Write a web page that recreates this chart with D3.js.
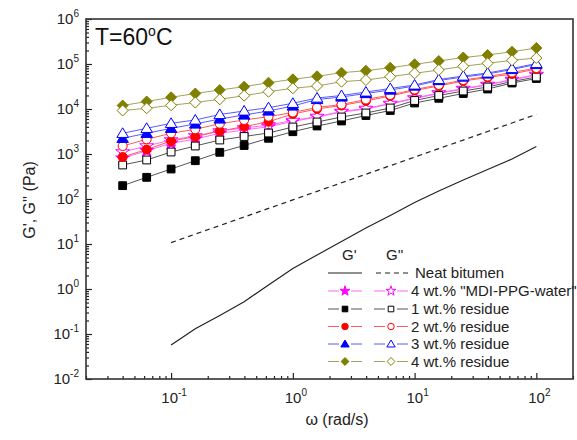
<!DOCTYPE html>
<html>
<head>
<meta charset="utf-8">
<script src="https://cdn.jsdelivr.net/npm/d3@7"></script>
<style>
  body { margin: 0; background: #fff; }
  svg { font-family: "Liberation Sans", Arial, sans-serif; }
</style>
</head>
<body>
<svg id="chart" width="577" height="440"></svg>
<script>
// frequencies (rad/s)
var omega = [0.04, 0.063, 0.1, 0.158, 0.251, 0.398, 0.631, 1, 1.58, 2.51, 3.98, 6.31, 10, 15.8, 25.1, 39.8, 63.1, 100];
var omegaNeat = [0.1, 0.158, 0.251, 0.398, 0.631, 1, 1.58, 2.51, 3.98, 6.31, 10, 15.8, 25.1, 39.8, 63.1, 100];

// neat bitumen
var neatG1 = [0.057, 0.131, 0.258, 0.522, 1.23, 2.85, 5.7, 11.4, 22.7, 43, 83.6, 151, 264, 453, 774, 1468];
var neatG2 = [10.7, 16.6, 25.7, 39.8, 61.7, 95.5, 148, 229, 355, 550, 851, 1320, 2040, 3160, 4900, 7580];

// 4 wt.% MDI-PPG-water
var mdiG1 = [802, 1183, 1730, 2154, 2884, 3415, 4045, 5275, 6640, 8570, 10000, 12900, 17100, 22100, 27800, 34150, 44060, 56990];
var mdiG2 = [1108, 1506, 2047, 2512, 3245, 3784, 4406, 5548, 6813, 8799, 10260, 13250, 17550, 22680, 28560, 35010, 45250, 58430];

// residue
var res1G1 = [198, 303, 464, 710, 1090, 1545, 2233, 3130, 4190, 5410, 7170, 9260, 13600, 17300, 22100, 27800, 37800, 47600];
var res1G2 = [570, 736, 1108, 1506, 2047, 2448, 2929, 3981, 5140, 6640, 8150, 10520, 15450, 19950, 25120, 30830, 40840, 51400];
var res2G1 = [857, 1259, 1944, 2423, 3245, 4045, 5220, 7742, 10000, 11960, 15060, 19440, 25770, 32440, 41900, 50120, 59950, 77430];
var res2G2 = [1506, 2122, 2884, 3540, 4713, 5700, 6745, 8360, 10800, 12590, 16260, 20470, 27100, 34150, 44060, 52730, 64720, 81470];
var res3G1 = [2233, 2884, 3724, 4642, 5995, 7360, 9030, 11660, 16260, 18490, 22100, 26430, 32440, 42970, 51400, 59950, 75510, 97500];
var res3G2 = [2884, 3724, 4808, 5700, 7550, 9030, 10690, 13390, 17550, 19950, 23870, 28560, 34150, 45250, 54080, 63100, 79430, 102600];
var res4G1 = [11960, 14680, 18200, 22100, 26430, 31330, 38400, 45710, 53330, 64120, 70960, 82760, 98430, 116600, 139400, 158500, 187700, 226800];
var res4G2 = [9260, 10370, 12080, 13940, 16430, 19760, 24230, 28840, 32440, 40430, 44060, 52240, 62120, 73590, 88920, 103700, 120800, 135900];

var labels = ["Neat bitumen", "4 wt.% \"MDI-PPG-water\"", "1 wt.% residue", "2 wt.% residue", "3 wt.% residue", "4 wt.% residue"];

var xDecades = [0.1, 1, 10, 100];
var yDecades = [1e-2, 1e-1, 1, 10, 100, 1e3, 1e4, 1e5, 1e6];

var svg = d3.select("#chart");

var plotLeft = 86, plotRight = 573, plotTop = 19, plotBottom = 379;

var x = d3.scaleLog().domain([0.02, 200]).range([plotLeft, plotRight]);
var y = d3.scaleLog().domain([0.01, 1e6]).range([plotBottom, plotTop]);

// marker shapes
function shape(name, s) {
  if (name == "square") return "M" + (-s) + "," + (-s) + "H" + s + "V" + s + "H" + (-s) + "Z";
  if (name == "diamond") return "M0," + (-s) + "L" + s + ",0L0," + s + "L" + (-s) + ",0Z";
  if (name == "triangle") return "M0," + (-s) + "L" + (s * 1.05) + "," + (s * 0.75) + "L" + (-s * 1.05) + "," + (s * 0.75) + "Z";
  if (name == "circle") return d3.symbol(d3.symbolCircle, Math.PI * s * s)();
  if (name == "star") return d3.symbol(d3.symbolStar, s * s * 2.2)();
}

var series = [
  { g1: mdiG1, g2: mdiG2, color: "#ff00ff", line: "#ff66ff", shape: "star", size: 5.2 },
  { g1: res1G1, g2: res1G2, color: "#000000", line: "#555555", shape: "square", size: 3.9 },
  { g1: res2G1, g2: res2G2, color: "#ff0000", line: "#ff5a5a", shape: "circle", size: 4.5 },
  { g1: res3G1, g2: res3G2, color: "#0000ff", line: "#5a5aff", shape: "triangle", size: 5.5 },
  { g1: res4G1, g2: res4G2, color: "#808000", line: "#a3a35c", shape: "diamond", size: 5.5 }
];

var line = d3.line()
    .x(function(d) { return x(d[0]); })
    .y(function(d) { return y(d[1]); });

// neat bitumen curves
svg.append("path")
    .attr("d", line(d3.zip(omegaNeat, neatG1)))
    .attr("fill", "none")
    .attr("stroke", "#222")
    .attr("stroke-width", 1.2);

svg.append("path")
    .attr("d", line(d3.zip(omegaNeat, neatG2)))
    .attr("fill", "none")
    .attr("stroke", "#222")
    .attr("stroke-width", 1.2)
    .attr("stroke-dasharray", "5,4");

series.forEach(function(s) {
  [s.g1, s.g2].forEach(function(vals, k) {
    var pts = d3.zip(omega, vals);
    svg.append("path")
        .attr("d", line(pts))
        .attr("fill", "none")
        .attr("stroke", s.line)
        .attr("stroke-width", 1);

    svg.append("g").selectAll("path")
        .data(pts)
      .enter().append("path")
        .attr("transform", function(d) { return "translate(" + x(d[0]) + "," + y(d[1]) + ")"; })
        .attr("d", shape(s.shape, s.size))
        .attr("fill", k == 0 ? s.color : "#fff")
        .attr("stroke", s.color)
        .attr("stroke-width", 1);
  });
});

// axes, ticks inward
var xMinor = x.ticks().filter(function(d) { return xDecades.indexOf(d) < 0; });
var yMinor = y.ticks().filter(function(d) { return yDecades.indexOf(d) < 0; });

svg.append("g")
    .attr("transform", "translate(0," + plotBottom + ")")
    .call(d3.axisBottom(x).tickValues(xMinor).tickSize(-3).tickFormat(""));
svg.append("g")
    .attr("transform", "translate(0," + plotBottom + ")")
    .call(d3.axisBottom(x).tickValues(xDecades).tickSize(-6).tickFormat(""));
svg.append("g")
    .attr("transform", "translate(" + plotLeft + ",0)")
    .call(d3.axisLeft(y).tickValues(yMinor).tickSize(-3).tickFormat(""));
svg.append("g")
    .attr("transform", "translate(" + plotLeft + ",0)")
    .call(d3.axisLeft(y).tickValues(yDecades).tickSize(-6).tickFormat(""));

svg.selectAll(".domain").remove();
svg.selectAll(".tick line").attr("stroke", "#222").attr("stroke-width", 1.2);

svg.append("rect")
    .attr("x", plotLeft)
    .attr("y", plotTop)
    .attr("width", plotRight - plotLeft)
    .attr("height", plotBottom - plotTop)
    .attr("fill", "none")
    .attr("stroke", "#333")
    .attr("stroke-width", 1.6);

// tick labels
function powerLabel(sel, v) {
  var e = Math.round(Math.log10(v));
  sel.append("tspan").text("10");
  sel.append("tspan").attr("dy", -7).attr("font-size", 10).text(e);
}

xDecades.forEach(function(v) {
  var t = svg.append("text")
      .attr("x", x(v) + 3)
      .attr("y", 403)
      .attr("text-anchor", "middle")
      .attr("font-size", 15)
      .attr("fill", "#222");
  powerLabel(t, v);
});

yDecades.forEach(function(v) {
  var t = svg.append("text")
      .attr("x", 79)
      .attr("y", y(v) + 5)
      .attr("text-anchor", "end")
      .attr("font-size", 15)
      .attr("fill", "#222");
  powerLabel(t, v);
});

// axis titles
svg.append("text")
    .attr("x", 337)
    .attr("y", 425)
    .attr("text-anchor", "middle")
    .attr("font-size", 16)
    .attr("fill", "#222")
    .text("\u03c9 (rad/s)");

svg.append("text")
    .attr("transform", "translate(35,200) rotate(-90)")
    .attr("text-anchor", "middle")
    .attr("font-size", 16)
    .attr("fill", "#222")
    .text("G', G'' (Pa)");

// temperature label
var tl = svg.append("text")
    .attr("x", 95)
    .attr("y", 45)
    .attr("font-size", 23)
    .attr("fill", "#111");
tl.append("tspan").text("T=60");
tl.append("tspan").attr("dy", -9).attr("font-size", 14).text("o");
tl.append("tspan").attr("dy", 9).text("C");

// legend
var lg = svg.append("g");
lg.append("text").attr("x", 342).attr("y", 260).attr("font-size", 15).attr("fill", "#222").text("G'");
lg.append("text").attr("x", 386).attr("y", 260).attr("font-size", 15).attr("fill", "#222").text("G''");

var rowY = [273, 291, 309, 326.5, 344, 361.5];

lg.append("line").attr("x1", 328).attr("x2", 362).attr("y1", rowY[0]).attr("y2", rowY[0])
    .attr("stroke", "#222").attr("stroke-width", 1.2);
lg.append("line").attr("x1", 376).attr("x2", 410).attr("y1", rowY[0]).attr("y2", rowY[0])
    .attr("stroke", "#222").attr("stroke-width", 1.2).attr("stroke-dasharray", "5,4");
lg.append("text").attr("x", 415).attr("y", rowY[0] + 5).attr("font-size", 15).attr("fill", "#222").text(labels[0]);

series.forEach(function(s, i) {
  var yy = rowY[i + 1];
  [345, 391].forEach(function(cx, k) {
    lg.append("line").attr("x1", cx - 17).attr("x2", cx - 6).attr("y1", yy).attr("y2", yy)
        .attr("stroke", s.line).attr("stroke-width", 1);
    lg.append("line").attr("x1", cx + 6).attr("x2", cx + 17).attr("y1", yy).attr("y2", yy)
        .attr("stroke", s.line).attr("stroke-width", 1);
    lg.append("path")
        .attr("transform", "translate(" + cx + "," + yy + ")")
        .attr("d", shape(s.shape, s.size * 0.72))
        .attr("fill", k == 0 ? s.color : "#fff")
        .attr("stroke", s.color)
        .attr("stroke-width", 1);
  });
  lg.append("text").attr("x", 411).attr("y", yy + 5).attr("font-size", 15).attr("fill", "#222").text(labels[i + 1]);
});
</script>
</body>
</html>
